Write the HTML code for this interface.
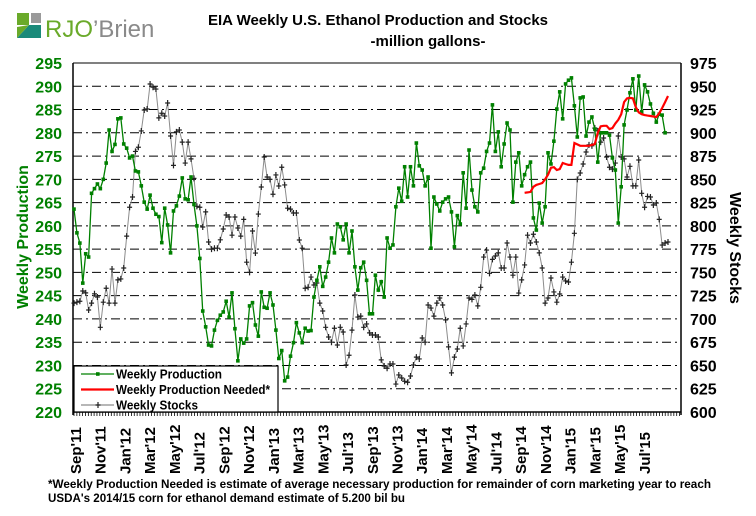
<!DOCTYPE html>
<html><head><meta charset="utf-8"><style>
html,body{margin:0;padding:0;background:#fff;}
svg{display:block;font-family:"Liberation Sans",Arial,sans-serif;}
</style></head><body>
<svg id="chart" width="756" height="516" viewBox="0 0 756 516">
  <g>
    <rect x="17" y="13" width="12" height="12" fill="#6aaa2a"/>
    <rect x="31" y="13" width="10" height="10" fill="#9a9a9a"/>
    <polygon points="17,38 41,38 41,25 29,25" fill="#1a8a7a"/>
    <polygon points="17,38 29,25 17,27" fill="#6aaa2a"/>
    <text x="45" y="37" font-size="24" fill="#6aaa2a" font-family="Liberation Sans, sans-serif">RJO<tspan fill="#8a8a8a">’Brien</tspan></text>
  </g>
  <text x="378" y="25" text-anchor="middle" font-size="15" font-weight="bold">EIA Weekly U.S. Ethanol Production and Stocks</text>
  <text x="428" y="46" text-anchor="middle" font-size="15" font-weight="bold">-million  gallons-</text>
  <g id="grid"></g>
  <g id="axes"></g>
  <g id="series"></g>
  <g id="legend"></g>
  <text x="28" y="237" transform="rotate(-90 28 237)" text-anchor="middle" font-size="16" font-weight="bold" fill="#008000">Weekly Production</text>
  <text x="730" y="248" transform="rotate(90 730 248)" text-anchor="middle" font-size="16" font-weight="bold" fill="#000">Weekly Stocks</text>
  <text x="48" y="488" font-size="12" font-weight="bold" textLength="663" lengthAdjust="spacingAndGlyphs">*Weekly Production Needed is estimate of average necessary production for remainder of corn marketing year to reach</text>
  <text x="48" y="502" font-size="12" font-weight="bold" textLength="357" lengthAdjust="spacingAndGlyphs">USDA's  2014/15 corn for ethanol demand estimate of 5.200 bil bu</text>
</svg>
<script>
const production = [263.6,258.5,256.3,247.7,254,253.3,267,268,269,268,270,273.5,280.6,276,277.5,283,283.2,277.6,276.7,274.6,275,271.8,271.6,268.6,265.1,263.6,266.6,263.8,262.5,262,256.4,263.8,260.2,254.2,263.2,264.3,266.4,270.3,265.8,265.6,270.5,264.6,260,253,241.7,238.3,234.4,234.2,237.6,239.7,240.8,241.5,
243.8,240.4,245.6,237.9,231,235.7,234.8,235.7,242.8,243.5,238.7,236.3,245.8,242.5,242.3,245.6,243,237.6,231.5,233.2,226.7,227.5,232,234.9,239.2,
237,234.9,238,237.4,237.5,244.7,248.3,251.2,247,249,252.2,257.4,254.2,260.4,259.8,257,260.4,254.2,258.9,251.2,246.2,251,252.2,248.3,241.1,
241.1,249.4,246.2,248,244.7,257.4,255.2,255.9,264.1,268.1,265.3,272.7,266.2,272.7,268.6,277.8,272.9,272,268.6,270.5,255.2,266.2,264.7,263.2,265.1,265.8,266.2,263,255.5,262.2,260.4,271.4,263.8,276.3,267.7,264.1,263,271.4,272.4,276,277.8,286,276,280.2,272.7,277.6,282.1,280.6,265.1,273.7,275.7,268.6,271,272.7,
273.7,261.7,259.1,264.9,260.6,264.1,275.7,273.3,278.2,285.1,288.8,283,290.5,291.3,291.8,285.8,279.1,287.5,287.7,279.3,282.3,283.4,280.8,273.7,280,280,280,279.5,274.6,272,260.6,268.4,281.7,284.9,288.6,291.6,284.9,292.2,284.5,290.3,288.8,286.2,284.2,282.3,284,283.8,280];
const stocks = [717,718,719,730,728,709.6,717,727,723.6,691,718,733,717,753.6,717,742,743,754.7,789,820,831,880,884.5,902,924.5,925.6,952.4,949,947,916,921,918,932,896.6,865,901,903,890,867.5,890,872,851,821,820,798.8,815,782.7,775,776,776,785,
796.6,811.7,809.5,790,809.5,797.7,789,807,761,750,794.5,770.8,812.7,841.8,874,852.5,850,834,854.7,842.8,863,844,819,818,813.8,813.8,784.8,776,733,734,745,736.5,738.6,717,708.5,691,680.6,675,690,672,691,686,650.5,661,688,725.7,702,703,691,694.6,685,682.7,
682.7,680.6,656,649.4,647,651.6,651.6,630,639.8,636.5,633,632,638.7,650.5,659,657,679.5,675,715,711.7,703,717,722.5,715,699,670,642,659,667.7,690,671,694.6,722.5,721,725.7,714,734,766.5,774,749,764,767.6,771,754.7,754.7,781.6,766.5,747,766.5,727.8,742,758,
790,781.6,791,782.7,771,754.7,717,722.5,744,729,718,726.8,745,740.8,739.7,761,792,850,856.8,866.5,879.4,887,886,905,902,890,894.4,874,863,861,867.5,896.6,874,872,852.5,864,843,843,870.8,835,820,831.6,831,822.4,824.6,807,779.4,781.6,782.7];
const needed = [267.1,267.2,267.3,268.4,268.8,269,269.2,270,271,272.5,272.6,272,272.2,273.5,273.3,273.1,273.1,277.8,277.5,277.2,277.2,277.2,277.2,277.4,277.6,280,281.4,281.5,281.5,280.8,281,282,282.8,284,286.6,287.4,287.5,287.4,285.5,284.4,284,283.8,283.7,283.6,283.5,283.4,284.2,285.3,286.6,287.9];
const neededStartWeek = 154;
const leftTicks = [220,225,230,235,240,245,250,255,260,265,270,275,280,285,290,295];
const rightTicks = [600,625,650,675,700,725,750,775,800,825,850,875,900,925,950,975];
const monthLabels = ["Sep'11","Nov'11","Jan'12","Mar'12","May'12","Jul'12","Sep'12","Nov'12","Jan'13","Mar'13","May'13","Jul'13","Sep'13","Nov'13","Jan'14","Mar'14","May'14","Jul'14","Sep'14","Nov'14","Jan'15","Mar'15","May'15","Jul'15"];

const NS="http://www.w3.org/2000/svg";
const X0=73,X1=681,Y0=63,Y1=412;
const nWeeks=Math.max(production.length,stocks.length);
const xW=w=>74+w*(594/(nWeeks-1));
const yL=v=>Y1-(v-220)/(295-220)*(Y1-Y0);
const yR=v=>Y1-(v-600)/(975-600)*(Y1-Y0);
const xMonth=i=>76+i*24.73;
function mk(tag,attrs,parent){const e=document.createElementNS(NS,tag);for(const k in attrs)e.setAttribute(k,attrs[k]);parent.appendChild(e);return e;}
const grid=document.getElementById('grid'),axes=document.getElementById('axes'),series=document.getElementById('series'),legend=document.getElementById('legend');

leftTicks.forEach(v=>{
  if(v>220&&v<295){const l=mk('line',{x1:X0,x2:X1,y1:yL(v),y2:yL(v),stroke:'#000','stroke-width':1,'stroke-dasharray':'9,4,2,4'},grid);
  
  }
  const t=mk('text',{x:62,y:yL(v)+6,'text-anchor':'end','font-size':16,'font-weight':'bold',fill:'#008000'},axes);t.textContent=v;
  
  
});
rightTicks.forEach(v=>{
  const t=mk('text',{x:690,y:yR(v)+6,'font-size':16,'font-weight':'bold',fill:'#000'},axes);t.textContent=v;
  
  
});
mk('line',{x1:X0,x2:X1,y1:Y0,y2:Y0,stroke:'#000','stroke-width':1},axes);
mk('line',{x1:X0,x2:X0,y1:Y0,y2:Y1+3,stroke:'#000','stroke-width':1.5},axes);
mk('line',{x1:X1,x2:X1,y1:Y0,y2:Y1+3,stroke:'#000','stroke-width':1.5},axes);
mk('line',{x1:X0,x2:X1,y1:Y1,y2:Y1,stroke:'#000','stroke-width':1.5},axes);
for(let w=0;w<nWeeks+8;w++){const x=X0+1+w*2.87;if(x>X1)break;mk('line',{x1:x,x2:x,y1:Y1,y2:Y1+4,stroke:'#000','stroke-width':0.8},axes);}
monthLabels.forEach((m,i)=>{
  const x=xMonth(i)+5;
  const t=mk('text',{x:x,y:474,transform:`rotate(-90 ${x} 474)`,'font-size':15,'font-weight':'bold',fill:'#000'},axes);t.textContent=m;
  
  
});

const sp=stocks.map((v,i)=>xW(i).toFixed(1)+','+yR(v).toFixed(1)).join(' ');
const sl=mk('polyline',{points:sp,fill:'none',stroke:'#8c8c8c','stroke-width':1},series);


stocks.forEach((v,i)=>{const x=xW(i),y=yR(v);
  const p=mk('path',{d:`M${x-2.5},${y}L${x+2.5},${y}M${x},${y-3}L${x},${y+3}`,stroke:'#222','stroke-width':1.2},series);
  
  });
const pp=production.map((v,i)=>xW(i).toFixed(1)+','+yL(v).toFixed(1)).join(' ');
const pl=mk('polyline',{points:pp,fill:'none',stroke:'#008000','stroke-width':1.3},series);


production.forEach((v,i)=>{const r=mk('rect',{x:xW(i)-1.8,y:yL(v)-1.8,width:3.6,height:3.6,fill:'#008000'},series);
  
  });
const np=needed.map((v,i)=>xW(i+neededStartWeek).toFixed(1)+','+yL(v).toFixed(1)).join(' ');
const nl=mk('polyline',{points:np,fill:'none',stroke:'#ff0000','stroke-width':2.2},series);



const lb=mk('rect',{x:74,y:366,width:204,height:46,fill:'#fff',stroke:'#000','stroke-width':1.2},legend);


const entries=[['Weekly Production','#008000','sq',106],['Weekly Production Needed*','#ff0000','none',154],['Weekly Stocks','#8c8c8c','plus',82]];
entries.forEach((e,i)=>{const y=374+i*15.5;
  const g=mk('g',{},legend);
  
  
  mk('line',{x1:81,x2:114,y1:y,y2:y,stroke:e[1],'stroke-width':e[2]==='none'?2.2:1.2},g);
  if(e[2]==='sq')mk('rect',{x:96,y:y-1.8,width:3.6,height:3.6,fill:e[1]},g);
  if(e[2]==='plus')mk('path',{d:`M95.5,${y}L100.5,${y}M98,${y-3}L98,${y+3}`,stroke:'#222','stroke-width':1.2},g);
  const t=mk('text',{x:116,y:y+4.5,'font-size':12.5,'font-weight':'bold',fill:'#000',textLength:e[3],lengthAdjust:'spacingAndGlyphs'},g);t.textContent=e[0];
});
</script>
</body></html>
